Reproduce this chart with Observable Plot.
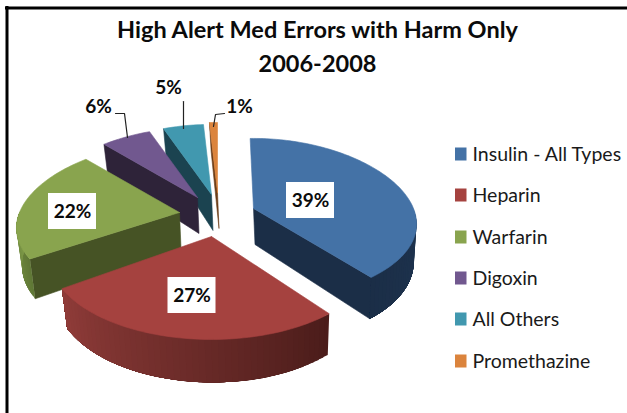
<!DOCTYPE html>
<html>
<head>
<meta charset="utf-8">
<script src="https://cdn.jsdelivr.net/npm/d3@7"></script>
<script src="https://cdn.jsdelivr.net/npm/@observablehq/plot@0.6"></script>
<style>html,body{margin:0;padding:0;background:#fff}svg{display:block}</style>
</head>
<body>
<div id="chart"></div>
<script>
// Data
const categories = ["Insulin - All Types", "Heparin", "Warfarin", "Digoxin", "All Others", "Promethazine"];
const shares = [39, 27, 22, 6, 5, 1];
const titleLines = ["High Alert Med Errors with Harm Only", "2006-2008"];

// Styles and layout (not data)
const topColors = ["#4472a6", "#a5423f", "#89a44e", "#71588f", "#4198af", "#db843d"];
const wallColors = ["#1b2e47", "#4a1c1a", "#465325", "#2e2339", "#1b4350", "#6b3d18"];
const rimFrom = ["#1e3450", "#4a1c1a", "#5f7735", "#2e2339", "#1b4350", "#6b3d18"];
const rimTo = ["#1b2e47", "#903c39", "#7f9a49", "#2e2339", "#1b4350", "#6b3d18"];
const apexX = [253, 211, 179, 197, 211, 217];
const apexY = [208, 236, 212, 197, 194, 192];
const squashY = [1, 1.12, 1, 1, 1, 1];
const startNudge = [-1.5, 0, 0, 0, 0, 0];
const labelX = [310, 191.5, 72, 98, 168, 239];
const labelY = [200, 295, 211, 106, 87, 106];
const boxed = [true, true, true, false, false, false];
const legendY = [154, 195, 237, 278, 319, 361];
const leaders = [
  [[115, 113], [124, 113], [127, 137]],
  [[183, 101], [183, 128]],
  [[224, 113], [215, 114], [213, 126]]
];
const font = "Lato, 'Open Sans', sans-serif";

// Slice angles from the values
const total = d3.sum(shares);
const ends = d3.cumsum(shares).map(c => c / total * 360);
const starts = ends.map((e, i) => (i ? ends[i - 1] : 0) + startNudge[i]);
const rad = a => a * Math.PI / 180;

function pt(i, a, low) {
  const u = Math.sin(rad(a)), v = -Math.cos(rad(a));
  return {
    x: apexX[i] + (low ? 1.5 : 0) + 160 * u * (1 + 0.2 * v) * (low ? 0.975 : 1),
    y: apexY[i] + 81 * v * (1 + 0.135 * v) * squashY[i] + (low ? 36 + 7 * v : 0)
  };
}
const apex = (i, low) => ({x: apexX[i] + (low ? 1.5 : 0), y: apexY[i] + (low ? 36 : 0)});
const close = p => [...p, p[0]];
const face = (pts, color) =>
  Plot.line(close(pts), {x: "x", y: "y", fill: color, stroke: color, strokeWidth: 0.6});

const marks = [];
marks.push(Plot.ruleY([7.5], {x1: 5, x2: 627, stroke: "black", strokeWidth: 3}));
marks.push(Plot.ruleX([6.5], {y1: 6, y2: 413, stroke: "black", strokeWidth: 3}));

// Back to front
for (const i of [5, 4, 3, 2, 0, 1]) {
  const s = starts[i], e = ends[i];
  // radial walls
  if (s > 180) marks.push(face([apex(i), pt(i, s), pt(i, s, true), apex(i, true)], wallColors[i]));
  if (e < 180) marks.push(face([apex(i), pt(i, e), pt(i, e, true), apex(i, true)], wallColors[i]));
  // rim, shaded by angle; each band runs under the next so no seams show
  const a0 = Math.max(s, 90), a1 = Math.min(e, 270);
  if (a1 > a0) {
    const n = Math.ceil((a1 - a0) / 2);
    const col = d3.interpolateRgb(rimFrom[i], rimTo[i]);
    for (let k = 0; k < n; k++) {
      const b0 = a0 + (a1 - a0) * k / n;
      const c = col((k + 0.5) / n);
      const pts = [];
      for (let m = 0; m <= 8; m++) pts.push(pt(i, b0 + (a1 - b0) * m / 8));
      for (let m = 8; m >= 0; m--) pts.push(pt(i, b0 + (a1 - b0) * m / 8, true));
      marks.push(Plot.line(close(pts), {x: "x", y: "y", fill: c, stroke: "none"}));
    }
  }
  // top surface
  const arc = [apex(i)];
  const n = Math.max(3, Math.ceil((e - s) / 1.5));
  for (let k = 0; k <= n; k++) arc.push(pt(i, s + (e - s) * k / n));
  marks.push(face(arc, topColors[i]));
}

// Leader lines
for (const l of leaders) {
  marks.push(Plot.line(l.map(([x, y]) => ({x, y})), {x: "x", y: "y", stroke: "#222", strokeWidth: 1.2}));
}

// Value labels
const labels = shares.map((v, i) => ({t: v + "%", x: labelX[i], y: labelY[i], boxed: boxed[i]}));
marks.push(Plot.rect(labels.filter(d => d.boxed), {
  x1: d => d.x - 24, x2: d => d.x + 24, y1: d => d.y - 18, y2: d => d.y + 18, fill: "white"
}));
marks.push(Plot.text(labels, {
  x: "x", y: "y", text: "t", fontFamily: font, fontWeight: 700, fontSize: 19, fill: "#0b0b0b"
}));

// Title
marks.push(Plot.text(titleLines.map((t, k) => ({t, y: [30, 64][k]})), {
  x: () => 317, y: "y", text: "t", fontFamily: font, fontWeight: 700, fontSize: 23.5, fill: "#0b0b0b"
}));

// Legend
const legend = categories.map((c, i) => ({c, color: topColors[i], y: legendY[i]}));
for (const d of legend) {
  marks.push(Plot.rect([d], {x1: () => 455, x2: () => 466.5, y1: q => q.y - 6.5, y2: q => q.y + 6.5, fill: d.color}));
}
marks.push(Plot.text(legend, {
  x: () => 472, y: "y", text: "c", textAnchor: "start", fontFamily: font, fontSize: 19.5, fill: "#1a1a1a"
}));

const chart = Plot.plot({
  width: 627, height: 413,
  marginTop: 0, marginRight: 0, marginBottom: 0, marginLeft: 0,
  style: {background: "white"},
  x: {domain: [0, 627], range: [0, 627], axis: null},
  y: {domain: [0, 413], range: [0, 413], axis: null},
  marks
});
document.getElementById("chart").append(chart);
</script>
</body>
</html>
